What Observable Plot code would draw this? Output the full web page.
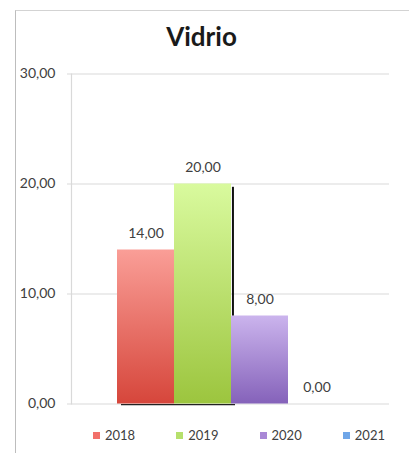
<!DOCTYPE html>
<html>
<head>
<meta charset="utf-8">
<script src="https://cdn.jsdelivr.net/npm/d3@7"></script>
<script src="https://cdn.jsdelivr.net/npm/@observablehq/plot@0.6"></script>
<style>
  html, body { margin: 0; padding: 0; background: #fff; }
  body { width: 409px; height: 453px; overflow: hidden; position: relative; font-family: Lato, "Open Sans", sans-serif; }
  #frame { position: absolute; left: 15px; top: 10px; width: 400px; height: 450px;
           border-left: 1.5px solid #bdbdbd; border-top: 1.5px solid #d3d3d3; }
  #title { position: absolute; left: 0; width: 403px; top: 20px; text-align: center;
           font-weight: bold; font-size: 26px; line-height: 32px; color: #1a1a1a; }
  #chart { position: absolute; left: 0; top: 55px; }
  #legend { position: absolute; left: 93px; width: 292px; top: 427px; height: 16px;
            display: flex; justify-content: space-between; align-items: center;
            font-size: 13px; color: #404040; }
  #legend .item { display: flex; align-items: center; }
  #legend .sw { width: 7px; height: 7px; margin-right: 5px; }
</style>
</head>
<body>
<div id="frame"></div>
<div id="title">Vidrio</div>
<div id="chart"></div>
<div id="legend"></div>
<script>
const title = "Vidrio";
const years = ["2018", "2019", "2020", "2021"];
const values = [14, 20, 8, 0];
const valueLabels = ["14,00", "20,00", "8,00", "0,00"];
const yTicks = [0, 10, 20, 30];
const yTickLabels = ["0,00", "10,00", "20,00", "30,00"];
const gradTop = ["#fa9e97", "#d9fa9e", "#cbb4ed", "#8cbaf2"];
const gradBottom = ["#d6463b", "#9cc53e", "#8562ba", "#4a86d0"];
const legendColors = ["#f2706a", "#b6e06c", "#a988d6", "#6fa6e8"];

const data = years.map((y, i) => ({year: y, value: values[i], label: valueLabels[i]}));
const bw = (346 - 116) / years.length;

document.getElementById("title").textContent = title;

const svg = Plot.plot({
  width: 409,
  height: 365,
  marginLeft: 71,
  marginRight: 20,
  marginTop: 18.5,
  marginBottom: 16.5,
  style: {fontFamily: "Lato, 'Open Sans', sans-serif", fontSize: "14px", color: "#404040", background: "transparent"},
  x: {domain: years, range: [116, 346], padding: 0, axis: null},
  y: {domain: [0, 30], axis: null},
  color: {domain: years, range: years.map(y => `url(#grad${y})`)},
  marks: [
    Plot.gridY(yTicks, {stroke: "#d9d9d9", strokeOpacity: 1, strokeWidth: 1.2}),
    Plot.frame({anchor: "left", stroke: "#d9d9d9", strokeWidth: 1.2}),
    Plot.axisY(yTicks, {
      tickSize: 4, tickPadding: 12, stroke: "#d9d9d9", fill: "#404040",
      fontSize: 14, label: null,
      tickFormat: d => yTickLabels[yTicks.indexOf(d)]
    }),
    Plot.ruleY([{a: years[0], b: years[1]}], {y: () => 0, x1: "a", x2: "b", dx: 4, dy: 0.6, stroke: "#222", strokeWidth: 1.3}),
    Plot.barY(data, {x: "year", y: "value", fill: "year"}),
    Plot.ruleX(data.filter(d => d.year === years[1]), {x: "year", y1: d => d.value - 0.3, y2: values[2], dx: bw / 2 + 1.2, stroke: "#111", strokeWidth: 2}),
    Plot.text(data, {x: "year", y: "value", text: "label", dy: -16.5, fontSize: 14, fill: "#404040"})
  ]
});

const defs = d3.select(svg).insert("defs", ":first-child");
years.forEach((y, i) => {
  const g = defs.append("linearGradient").attr("id", `grad${y}`)
    .attr("x1", 0).attr("y1", 0).attr("x2", 0).attr("y2", 1);
  g.append("stop").attr("offset", "0%").attr("stop-color", gradTop[i]);
  g.append("stop").attr("offset", "100%").attr("stop-color", gradBottom[i]);
});

document.getElementById("chart").appendChild(svg);

const legend = document.getElementById("legend");
years.forEach((y, i) => {
  const item = document.createElement("div");
  item.className = "item";
  const sw = document.createElement("span");
  sw.className = "sw";
  sw.style.background = legendColors[i];
  const t = document.createElement("span");
  t.textContent = y;
  item.appendChild(sw);
  item.appendChild(t);
  legend.appendChild(item);
});
</script>
</body>
</html>
